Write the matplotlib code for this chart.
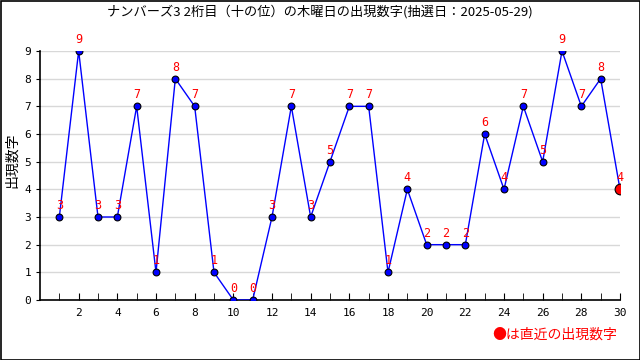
import matplotlib
matplotlib.use("Agg")
import matplotlib.pyplot as plt
from matplotlib.patches import Rectangle

plt.rcParams['font.family'] = ['Noto Sans CJK JP', 'DejaVu Sans']

draws = list(range(1, 31))
values = [3, 9, 3, 3, 7, 1, 8, 7, 1, 0, 0, 3, 7, 3, 5, 7, 7, 1, 4, 2, 2, 2, 6, 4, 7, 5, 9, 7, 8, 4]
title = "ナンバーズ3 2桁目（十の位）の木曜日の出現数字(抽選日：2025-05-29)"
ylabel = "出現数字"
note = "●は直近の出現数字"

fig = plt.figure(figsize=(6.4, 3.6), dpi=100)
ax = fig.add_axes([40/640, 1-300/360, 580/640, 249/360])

ax.plot(draws, values, color='blue', lw=1, zorder=3)
ax.scatter(draws[:-1], values[:-1], s=24, color='blue', edgecolor='black', lw=0.8, zorder=4)
ax.scatter(draws[-1:], values[-1:], s=60, color='red', edgecolor='black', lw=0.8, zorder=5)
for x, v in zip(draws, values):
    ax.annotate(str(v), (x, v), xytext=(0, 3.5), textcoords='offset points',
                ha='center', va='bottom', color='red', fontsize=8.5,
                family='DejaVu Sans Mono', zorder=6)

ax.set_xlim(0, 30)
ax.set_ylim(0, 9)
ax.set_xticks(range(2, 31, 2))
ax.set_xticks(range(1, 31), minor=True)
ax.set_yticks(range(0, 10))
ax.tick_params(axis='x', which='both', direction='in', length=5, labelsize=8, pad=6)
ax.tick_params(axis='y', direction='out', length=3, labelsize=8)
for lab in ax.get_xticklabels() + ax.get_yticklabels():
    lab.set_family('DejaVu Sans Mono')
ax.grid(axis='y', color='#d8d8d8', lw=1)
ax.set_axisbelow(True)
for s in ['top', 'right']:
    ax.spines[s].set_visible(False)
ax.spines['left'].set_linewidth(1.2)
ax.spines['bottom'].set_linewidth(1.2)

fig.text(0.5, 1-12/360, title, ha='center', va='center', fontsize=9.5)
fig.text(12/640, 1-160/360, ylabel, ha='center', va='center', rotation=90, fontsize=10)
fig.text(617/640, 1-335/360, note, ha='right', va='center', fontsize=10, color='red')

fig.patches.append(Rectangle((0.5/640, 0.5/360), 1-1/640, 1-1/360, transform=fig.transFigure,
                             fill=False, edgecolor='black', lw=1.2))

fig.savefig('out.png', dpi=100)
